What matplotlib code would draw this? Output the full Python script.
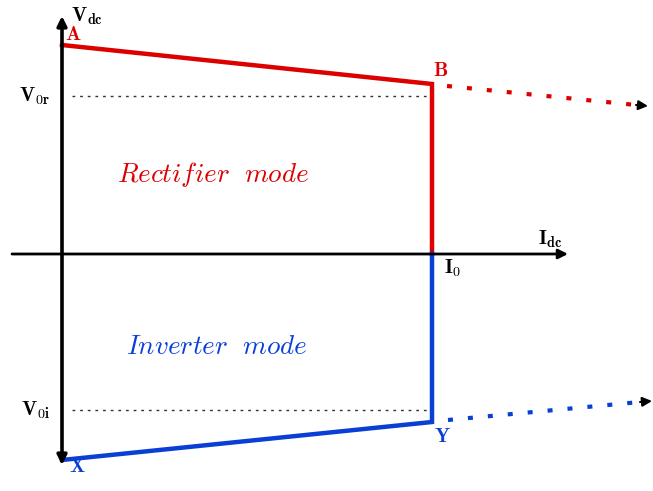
import matplotlib
matplotlib.use("Agg")
import matplotlib.pyplot as plt

plt.rcParams["mathtext.fontset"] = "cm"

# Static characteristic of a line-commutated converter (V_dc vs I_dc)
# Coordinates are in drawing units with the origin at the axes crossing.
I0 = 370
rect_solid_x = [0, I0, I0]
rect_solid_y = [209, 170, 0]
rect_ext_x = [385, 574]
rect_ext_y = [168, 149]
inv_solid_x = [0, I0, I0]
inv_solid_y = [-206, -168, 0]
inv_ext_x = [386, 578]
inv_ext_y = [-166, -148]
V0r = 158
V0i = -156

RED = "#dd0000"
BLUE = "#0a3fd6"

fig = plt.figure(figsize=(6.53, 4.91), dpi=100)
ax = fig.add_axes([0, 0, 1, 1])
ax.set_xlim(-62, 591)
ax.set_ylim(-237, 254)
ax.axis("off")

# axes with arrowheads
ax.annotate("", xy=(0, 238), xytext=(0, -211),
            arrowprops=dict(arrowstyle="<|-|>", lw=2.6, color="k",
                            mutation_scale=14, shrinkA=0, shrinkB=0))
ax.annotate("", xy=(506, 0), xytext=(-50, 0),
            arrowprops=dict(arrowstyle="-|>", lw=2.0, color="k",
                            mutation_scale=14, shrinkA=0, shrinkB=0))

# reference levels
ax.plot([10, I0], [V0r, V0r], color="#333333", lw=1.0, dashes=(2, 3.5))
ax.plot([10, I0], [V0i, V0i], color="#333333", lw=1.0, dashes=(2, 3.5))

# rectifier characteristic
ax.plot(rect_solid_x, rect_solid_y, color=RED, lw=3.2, solid_joinstyle="miter")
ax.plot(rect_ext_x, rect_ext_y, color=RED, lw=3.0, dashes=(1.2, 3.6))
ax.annotate("", xy=(rect_ext_x[1] + 12, rect_ext_y[1] - 1),
            xytext=(rect_ext_x[1], rect_ext_y[1]), annotation_clip=False,
            arrowprops=dict(arrowstyle="-|>", lw=1.5, color="k",
                            mutation_scale=14, shrinkA=0, shrinkB=0))

# inverter characteristic
ax.plot(inv_solid_x, inv_solid_y, color=BLUE, lw=3.2, solid_joinstyle="miter")
ax.plot(inv_ext_x, inv_ext_y, color=BLUE, lw=3.0, dashes=(1.2, 3.6))
ax.annotate("", xy=(inv_ext_x[1] + 12, inv_ext_y[1] + 1),
            xytext=(inv_ext_x[1], inv_ext_y[1]), annotation_clip=False,
            arrowprops=dict(arrowstyle="-|>", lw=1.5, color="k",
                            mutation_scale=14, shrinkA=0, shrinkB=0))

lab = dict(fontsize=14.5)
ax.text(9, 238, r"$\mathbf{V_{dc}}$", ha="left", va="center", **lab)
ax.text(3, 220, r"$\mathbf{A}$", color=RED, ha="left", va="center", **lab)
ax.text(I0 + 1, 184, r"$\mathbf{B}$", color=RED, ha="left", va="center", **lab)
ax.text(-12, V0r, r"$\mathbf{V_{0r}}$", ha="right", va="center", **lab)
ax.text(476, 15, r"$\mathbf{I_{dc}}$", ha="left", va="center", **lab)
ax.text(I0 + 12, -14, r"$\mathbf{I_0}$", ha="left", va="center", **lab)
ax.text(-12, V0i, r"$\mathbf{V_{0i}}$", ha="right", va="center", **lab)
ax.text(7, -212, r"$\mathbf{X}$", color=BLUE, ha="left", va="center", **lab)
ax.text(I0 + 2, -182, r"$\mathbf{Y}$", color=BLUE, ha="left", va="center", **lab)

ax.text(151, 80, r"$\mathit{Rectifier\ \ mode}$", color=RED, fontsize=19.5,
        ha="center", va="center")
ax.text(155, -93, r"$\mathit{Inverter\ \ mode}$", color=BLUE, fontsize=19.5,
        ha="center", va="center")

fig.savefig("out.png", dpi=100)
